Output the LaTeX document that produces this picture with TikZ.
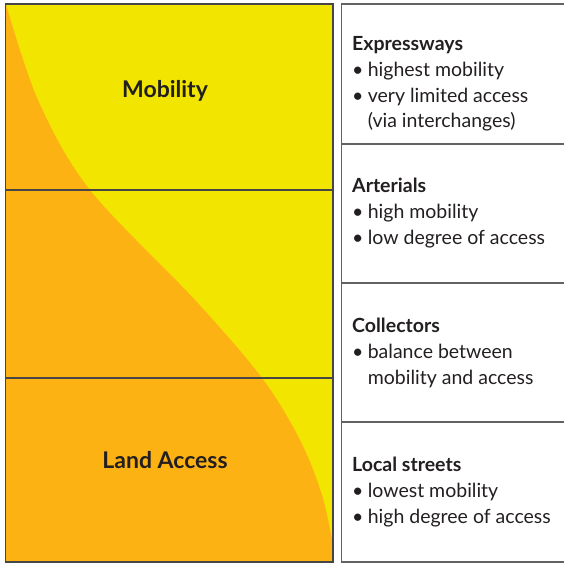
\documentclass[tikz,border=0pt]{standalone}
\usepackage{fontspec}
\setmainfont{Lato}
\definecolor{myyellow}{RGB}{242,230,0}
\definecolor{myorange}{RGB}{253,178,20}
\definecolor{lineg}{RGB}{70,70,70}
\definecolor{txt}{RGB}{35,31,32}
\tikzset{
  lbl/.style={font=\fontsize{23}{26}\selectfont\bfseries, text=txt, inner sep=0pt},
  ttl/.style={font=\fontsize{19.5}{22}\selectfont\bfseries, text=txt, inner sep=0pt, anchor=base west},
  itm/.style={font=\fontsize{19.5}{22}\selectfont, text=txt, inner sep=0pt, anchor=base west},
  frame/.style={draw=lineg, line width=1.3pt},
}
\newcommand{\bul}{\textbullet\hspace{0.22em}}
\newcommand{\ind}{\phantom{\textbullet}\hspace{0.22em}}
\begin{document}
\begin{tikzpicture}[x=1pt,y=-1pt]
\useasboundingbox (0,0) rectangle (564,563);
\clip (0,0) rectangle (564,563);
% left panel
\fill[myyellow] (5.5,4) rectangle (333,562);
\fill[myorange] (5.5,4) plot[smooth, tension=0.55] coordinates {(6,4) (38,100) (90,190) (195,300) (262,378) (300,440) (322,495) (333,545)} -- (333,562) -- (5.5,562) -- cycle;
\coordinate (l1) at (5.5,190); \coordinate (r1) at (333,190);
\coordinate (l2) at (5.5,378); \coordinate (r2) at (333,378);
\draw[frame] (l1) -- (r1);
\draw[frame] (l2) -- (r2);
\draw[frame] (5.5,4) rectangle (333,562);
\node[lbl] (mob) at (165,91) {Mobility};
\node[lbl] (land) at (165,460) {Land Access};
% right panel
\draw[draw=lineg!85, line width=1.3pt] (341.5,4) rectangle (566,562);
\coordinate (a1) at (341.5,144); \coordinate (b1) at (566,144);
\coordinate (a2) at (341.5,283); \coordinate (b2) at (566,283);
\coordinate (a3) at (341.5,422); \coordinate (b3) at (566,422);
\draw[draw=lineg!85, line width=1.3pt] (a1) -- (b1) (a2) -- (b2) (a3) -- (b3);
% texts
\node[ttl] (e0) at (352,50) {Expressways};
\node[itm] (e1) at (352,76) {\bul highest mobility};
\node[itm] (e2) at (352,102) {\bul very limited access};
\node[itm] (e3) at (352,127) {\ind(via interchanges)};
\node[ttl] (a0) at (352,192) {Arterials};
\node[itm] (a1t) at (352,218) {\bul high mobility};
\node[itm] (a2t) at (352,244) {\bul low degree of access};
\node[ttl] (c0) at (352,332) {Collectors};
\node[itm] (c1) at (352,358) {\bul balance between};
\node[itm] (c2) at (352,384) {\ind mobility and access};
\node[ttl] (s0) at (352,471) {Local streets};
\node[itm] (s1) at (352,497) {\bul lowest mobility};
\node[itm] (s2) at (352,523) {\bul high degree of access};
\end{tikzpicture}
\end{document}
